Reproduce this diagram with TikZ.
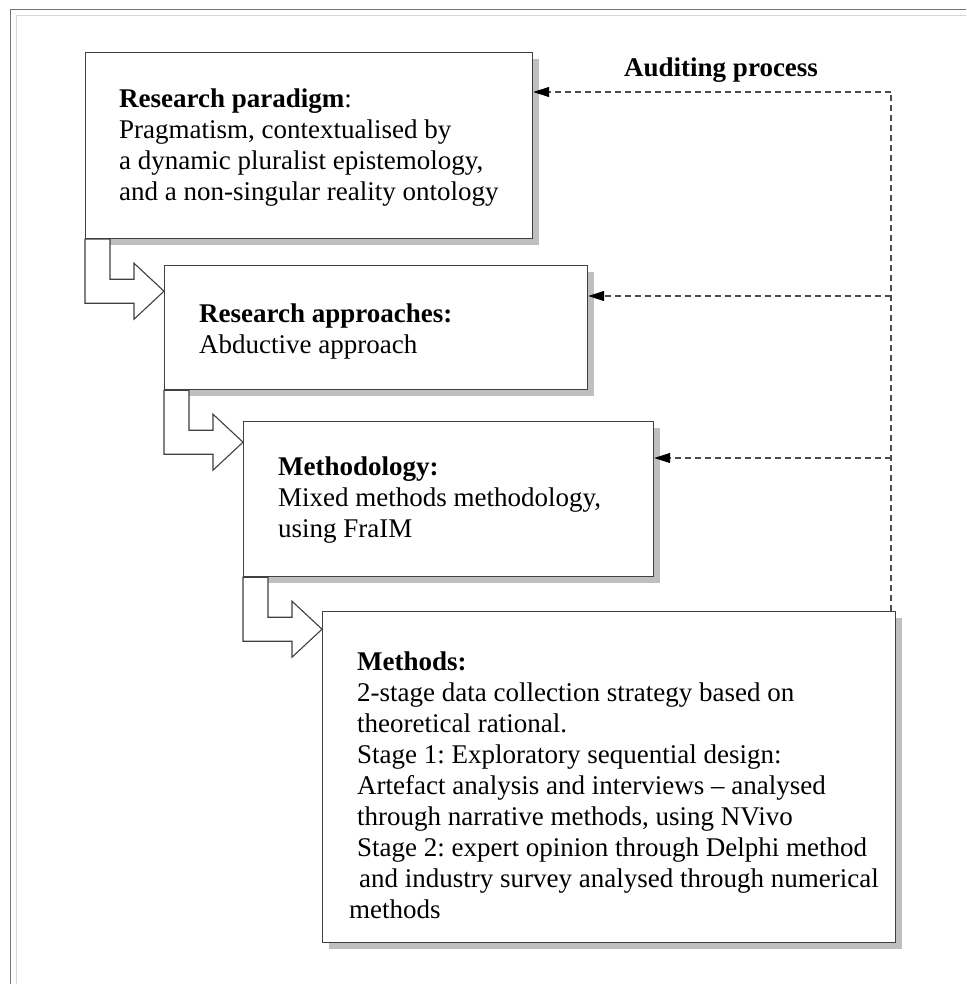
\documentclass[tikz,border=0pt]{standalone}
\usepackage{fontspec}
\setmainfont{Liberation Serif}
\usetikzlibrary{arrows.meta,calc,shadows}
\frenchspacing

\tikzset{
  stagebox/.style={draw=black!75, line width=1.2pt, fill=white, inner sep=0pt,
    anchor=north west,
    drop shadow={shadow xshift=6pt, shadow yshift=-6pt, fill=black!25, draw=none, opacity=1}},
  boxtext/.style={anchor=base west, inner sep=0pt, font=\fontsize{27}{31}\selectfont},
  blockarrow/.style={draw=black!75, line width=1.1pt, fill=white, line join=miter},
  auditline/.style={draw=black!70, line width=1.1pt, dash pattern=on 6pt off 4pt,
    -{Triangle[length=16pt,width=10pt,fill=black,color=black]}},
  railline/.style={draw=black!70, line width=1.1pt, dash pattern=on 6pt off 4pt},
}

% block arrow stepping from the lower left corner of one box to the left side of the next
\newcommand\stageArrow[2]{%
  \draw[blockarrow] let \p1=(#1.south west), \p2=(#2.west) in
    (\x1,\y1) -- (\x1,\y1-64pt) -- (\x2-30pt,\y1-64pt) -- (\x2-30pt,\y1-80pt)
    -- (\x2,\y1-52pt) -- (\x2-30pt,\y1-24pt) -- (\x2-30pt,\y1-40pt)
    -- (\x1+25pt,\y1-40pt) -- (\x1+25pt,\y1) -- cycle;}

\begin{document}
\begin{tikzpicture}[x=1pt,y=-1pt]
  \useasboundingbox (0,0) rectangle (966,984);
  \fill[white] (0,0) rectangle (966,984);

  % page frame
  \draw[black!55, line width=1.6pt] (10.5,984) -- (10.5,9.5) -- (966,9.5);
  \draw[black!15, line width=1.2pt] (16.5,984) -- (16.5,15.5) -- (966,15.5);

  % stage boxes
  \node[stagebox, minimum width=447pt, minimum height=186pt] (b1) at (85,52) {};
  \node[stagebox, minimum width=423pt, minimum height=124pt] (b2) at (164,265) {};
  \node[stagebox, minimum width=410pt, minimum height=155pt] (b3) at (243,421) {};
  \node[stagebox, minimum width=573pt, minimum height=331pt] (b4) at (322,611) {};

  % stepping arrows
  \stageArrow{b1}{b2}
  \stageArrow{b2}{b3}
  \stageArrow{b3}{b4}

  % box contents
  \node[boxtext] (t1) at (119,108) {\begin{tabular}[t]{@{}l@{}}
    \textbf{Research paradigm}:\\
    Pragmatism, contextualised by\\
    a dynamic pluralist epistemology,\\
    and a non-singular reality ontology
  \end{tabular}};
  \node[boxtext] (t2) at (199,322) {\begin{tabular}[t]{@{}l@{}}
    \textbf{Research approaches:}\\
    Abductive approach
  \end{tabular}};
  \node[boxtext] (t3) at (278,475) {\begin{tabular}[t]{@{}l@{}}
    \textbf{Methodology:}\\
    Mixed methods methodology,\\
    using FraIM
  \end{tabular}};
  \node[boxtext] (t4) at (357,670) {\begin{tabular}[t]{@{}l@{}}
    \textbf{Methods:}\\
    2-stage data collection strategy based on\\
    theoretical rational.\\
    Stage 1: Exploratory sequential design:\\
    Artefact analysis and interviews – analysed\\
    through narrative methods, using NVivo\\
    Stage 2: expert opinion through Delphi method\\
    \hspace*{2pt}and industry survey analysed through numerical\\
    \hspace*{-8pt}methods
  \end{tabular}};

  % auditing feedback
  \node[boxtext, font=\fontsize{27}{31}\selectfont\bfseries] (audit) at (624,77) {Auditing process};
  \coordinate (r1) at (891,92);
  \coordinate (r2) at (891,296);
  \coordinate (r3) at (891,458);
  \draw[railline] (b4.north -| r1) -- (r1);
  \draw[auditline] (r1) -- (b1.east |- r1);
  \draw[auditline] (r2) -- (b2.east |- r2);
  \draw[auditline] (r3) -- (b3.east |- r3);
\end{tikzpicture}
\end{document}
